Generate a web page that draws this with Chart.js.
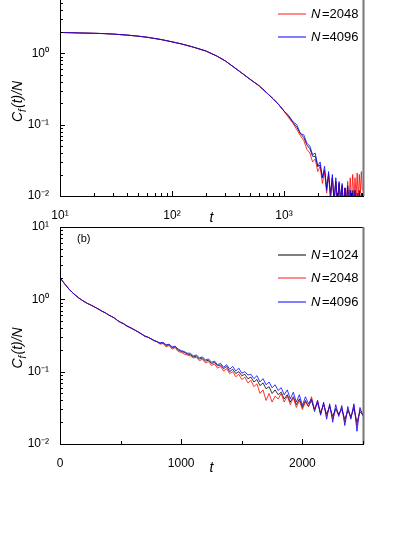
<!DOCTYPE html>
<html>
<head>
<meta charset="utf-8">
<script src="https://cdn.jsdelivr.net/npm/chart.js@4.4.0/dist/chart.umd.min.js"></script>
<style>
body { margin: 0; background: #fff; overflow: hidden; }
.box { position: absolute; left: 0; width: 415px; }
</style>
</head>
<body>
<div class="box" style="top:-30px;height:270px"><canvas id="topChart"></canvas></div>
<div class="box" style="top:210px;height:300px"><canvas id="botChart"></canvas></div>
<script>
// panel (a): log-log
var tA = [10,12,15,20,25,30,40,50,60,80,100,120,150,200,250,300,400,500,600,700,800,900,1000,
  1100,1200,1300,1400,1500,1600,1700,1800,1900,2000,2100,2200,2300,2400,2500,2600,2700,2800,2900,3000,
  3100,3200,3300,3400,3500,3600,3700,3800,3900,4000,4100,4200,4300,4400,4500,4600,4700,4800,4900,5000];
var smoothA = [1.96,1.95,1.93,1.91,1.89,1.86,1.80,1.74,1.68,1.56,1.45,1.36,1.24,1.08,0.92,0.78,0.56,0.43,0.35,0.28,0.23,0.19,0.155];
var blackA = smoothA.concat([0.13,0.108,0.092,0.075,0.066,0.052,0.046,0.036,0.036,0.026,
  0.027,0.018,0.023,0.013,0.02,0.011,0.018,0.009,0.016,0.008,
  0.015,0.009,0.014,0.007,0.013,0.008,0.013,0.007,0.012,0.008,
  0.012,0.007,0.012,0.008,0.011,0.007,0.012,0.008,0.011,0.008]);
var redA = smoothA.concat([0.125,0.105,0.085,0.07,0.06,0.045,0.04,0.03,0.033,0.022,
  0.026,0.015,0.022,0.011,0.02,0.009,0.018,0.008,0.016,0.007,
  0.015,0.008,0.014,0.007,0.013,0.008,0.016,0.009,0.018,0.008,
  0.02,0.009,0.018,0.01,0.021,0.009,0.02,0.011,0.022,0.012]);
var blueA = smoothA.concat([0.135,0.11,0.1,0.075,0.072,0.055,0.05,0.038,0.04,0.026,
  0.03,0.018,0.026,0.012,0.022,0.009,0.02,0.008,0.018,0.007,
  0.016,0.008,0.015,0.006,0.013,0.008,0.014,0.006,0.012,0.007,
  0.011,0.006,0.012,0.007,0.01,0.005,0.011,0.006,0.01,0.007]);

// panel (b): lin-log, t = 0..2500 step 25
var tB = [];
for (let i = 0; i <= 100; i++) tB.push(i * 25);
var smoothB = [2.0,1.75,1.55,1.38,1.25,1.15,1.06,0.99,0.93,0.88,0.84,0.80,0.76,0.72,0.68,0.65,0.61,
  0.58,0.55,0.51,0.48,0.46,0.43,0.41,0.39,0.37,0.35,0.33,0.31,0.30,0.285,0.27,0.26];
var blueB = smoothB.concat([0.25,0.255,0.235,0.24,0.22,0.225,0.205,0.195,0.19,0.18,
  0.18,0.165,0.17,0.155,0.16,0.145,0.15,0.135,0.14,0.125,
  0.13,0.115,0.125,0.108,0.118,0.102,0.112,0.095,0.1,0.09,
  0.092,0.08,0.088,0.072,0.08,0.066,0.072,0.06,0.066,0.055,
  0.06,0.048,0.056,0.042,0.052,0.038,0.048,0.034,0.045,0.036,
  0.042,0.028,0.04,0.025,0.038,0.022,0.036,0.02,0.035,0.024,
  0.034,0.018,0.033,0.022,0.036,0.015,0.032,0.024]);
var redB = smoothB.concat([0.24,0.245,0.22,0.23,0.205,0.215,0.19,0.185,0.175,0.17,
  0.165,0.155,0.158,0.142,0.148,0.132,0.138,0.122,0.128,0.112,
  0.118,0.102,0.11,0.094,0.1,0.085,0.092,0.078,0.084,0.07,
  0.076,0.062,0.068,0.05,0.056,0.04,0.05,0.038,0.046,0.042,
  0.05,0.038,0.046,0.035,0.044,0.032,0.04,0.03,0.038,0.033,
  0.045,0.03,0.04,0.026,0.036,0.024,0.034,0.022,0.03,0.025,
  0.032,0.02,0.03,0.023,0.034,0.018,0.03,0.026]);
var blackB = smoothB.concat([0.245,0.25,0.23,0.235,0.215,0.22,0.2,0.19,0.185,0.175,
  0.172,0.16,0.164,0.15,0.154,0.14,0.144,0.13,0.134,0.12,
  0.124,0.11,0.118,0.1,0.108,0.094,0.1,0.088,0.092,0.08,
  0.084,0.072,0.078,0.064,0.07,0.058,0.062,0.05,0.056,0.048,
  0.052,0.042,0.048,0.038,0.045,0.035,0.042,0.032,0.04,0.033,
  0.04,0.03,0.037,0.027,0.035,0.026,0.033,0.024,0.031,0.026,
  0.03,0.022,0.029,0.024,0.031,0.02,0.028,0.025]);

var names = ["1024", "2048", "4096"];
var colors = ["#000000", "#ff0000", "#0000ff"];
var sup = {"-2": "10\u207B\u00B2", "-1": "10\u207B\u00B9", "0": "10\u2070", "1": "10\u00B9", "2": "10\u00B2", "3": "10\u00B3"};

function pts(xs, ys) { return xs.map((x, i) => ({x: x, y: ys[i]})); }

function frame(legendY, label) {
    return {
        id: 'frame',
        afterDraw(chart) {
            var c = chart.ctx, a = chart.chartArea;
            c.save();
            c.strokeStyle = '#000'; c.lineWidth = 1;
            c.strokeRect(a.left + 0.5, a.top + 0.5, a.right - a.left, a.bottom - a.top);
            c.fillStyle = '#777';
            c.fillRect(a.right - 0.5, a.top, 2, a.bottom - a.top);
            // inward ticks
            var ys = chart.scales.y, xs = chart.scales.x;
            c.strokeStyle = '#000';
            for (let e = -2; e < 1; e++) {
                for (let m = 1; m < 10; m++) {
                    var py = Math.round(ys.getPixelForValue(m * Math.pow(10, e))) + 0.5;
                    var len = m == 1 ? 5 : 3;
                    c.beginPath(); c.moveTo(a.left, py); c.lineTo(a.left + len, py); c.stroke();
                }
            }
            var xt = [];
            if (xs.type == 'logarithmic') {
                for (let e = 1; e < 4; e++) for (let m = 1; m < 10; m++) xt.push([m * Math.pow(10, e), m == 1]);
            } else {
                for (let v = 0; v <= 2500; v += 500) xt.push([v, v % 1000 == 0]);
            }
            xt.forEach(t => {
                if (t[0] > xs.max) return;
                var px = Math.round(xs.getPixelForValue(t[0])) + 0.5;
                var len = t[1] ? 5 : 3;
                c.beginPath(); c.moveTo(px, a.bottom); c.lineTo(px, a.bottom - len); c.stroke();
            });
            // y title
            c.translate(22, (a.top + a.bottom) / 2 + 5);
            c.rotate(-Math.PI / 2);
            c.fillStyle = '#000';
            c.font = 'italic 14px Arial, "Liberation Sans"';
            c.textBaseline = 'alphabetic';
            c.fillText('C', -28, 0);
            c.font = 'italic 10px Arial, "Liberation Sans"';
            c.fillText('f', -18, 4);
            c.font = 'italic 14px Arial, "Liberation Sans"';
            c.fillText('(t)/N', -14, 0);
            c.restore();
            // legend
            c.save();
            for (let i = 0; i < 3; i++) {
                var ly = legendY[i];
                c.strokeStyle = colors[i]; c.lineWidth = i == 1 ? 1.5 : 1;
                c.globalAlpha = i == 1 ? 0.6 : 1;
                c.beginPath(); c.moveTo(278, ly); c.lineTo(306, ly); c.stroke();
                c.globalAlpha = 1;
                c.fillStyle = '#000';
                c.textBaseline = 'middle';
                c.font = 'italic 13px Arial, "Liberation Sans"';
                c.fillText('N', 311, ly);
                c.font = '13px Arial, "Liberation Sans"';
                c.fillText('=' + names[i], 322, ly);
            }
            if (label) {
                c.font = '11px Arial, "Liberation Sans"';
                c.fillText(label, 77, a.top + 12);
            }
            c.restore();
        }
    };
}

function makeChart(id, xs, series, xScale, padTop, xHeight, padBottom, legendY, label) {
    var datasets = series.map((s, i) => ({
        label: 'N=' + names[i],
        data: pts(xs, s),
        borderColor: colors[i],
        borderWidth: 0.8,
        pointRadius: 0,
        fill: false,
        tension: 0,
        order: 2 - i
    }));
    return new Chart(document.getElementById(id), {
        type: 'line',
        data: {datasets: datasets},
        options: {
            responsive: true,
            maintainAspectRatio: false,
            animation: false,
            layout: {padding: {top: padTop, right: 52, left: 0, bottom: padBottom}},
            plugins: {legend: {display: false}, tooltip: {enabled: false}},
            scales: {
                x: Object.assign(xScale, {
                    grid: {display: false},
                    border: {display: false},
                    title: {display: true, text: 't', color: '#000', padding: 0,
                        font: {family: 'Arial, "Liberation Sans"', size: 14, style: 'italic'}},
                    afterFit(s) { s.height = xHeight; }
                }),
                y: {
                    type: 'logarithmic', min: 0.01, max: 10,
                    grid: {display: false},
                    border: {display: false},
                    afterBuildTicks(s) { s.ticks = [0.01, 0.1, 1, 10].map(v => ({value: v})); },
                    ticks: {color: '#000', padding: 3, font: {family: 'Arial, "Liberation Sans"', size: 12},
                        callback: v => sup[Math.round(Math.log10(v))]},
                    afterFit(s) { s.width = 60; }
                }
            }
        },
        plugins: [frame(legendY, label)]
    });
}

makeChart('topChart', tA, [blackA, redA, blueA],
    {type: 'logarithmic', min: 10, max: 5070,
     afterBuildTicks(s) { s.ticks = [10, 100, 1000].map(v => ({value: v})); },
     ticks: {color: '#000', padding: 4, maxRotation: 0, font: {family: 'Arial, "Liberation Sans"', size: 12},
        callback: v => sup[Math.round(Math.log10(v))]}},
    12, 31, 13, [21, 44, 67], null);

makeChart('botChart', tB, [blackB, redB, blueB],
    {type: 'linear', min: 0, max: 2500,
     afterBuildTicks(s) { s.ticks = [0, 1000, 2000].map(v => ({value: v})); },
     ticks: {color: '#000', padding: 4, maxRotation: 0, font: {family: 'Arial, "Liberation Sans"', size: 12},
        callback: v => String(v)}},
    17, 33, 33, [45, 68, 92], '(b)');
</script>
</body>
</html>
